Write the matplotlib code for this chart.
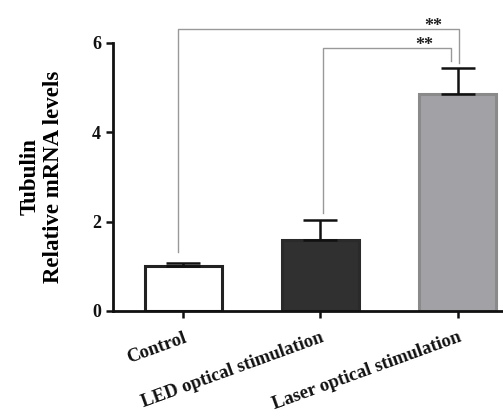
import matplotlib
matplotlib.use("Agg")
import matplotlib.pyplot as plt

categories = ["Control", "LED optical stimulation", "Laser optical stimulation"]
values = [1.0, 1.6, 4.85]
errors = [0.07, 0.44, 0.58]
yticks = [0, 2, 4, 6]
# brackets: (left index, right index, y level, left leg end, right leg end, label)
brackets = [
    (0, 2, 6.31, 1.32, 5.55, "**"),
    (1, 2, 5.88, 2.19, 5.60, "**"),
]

plt.rcParams['font.family'] = ['Liberation Serif', 'DejaVu Serif']
plt.rcParams['font.weight'] = 'bold'

fig = plt.figure(figsize=(5.03, 4.19), dpi=100)
ax = fig.add_axes([0.2247, 0.2578, 0.7753, 0.6396])

x = list(range(len(categories)))
facecolors = ["white", "#303030", "#a2a2a6"]
edgecolors = ["#222222", "#2a2a2a", "#8a8a8a"]
ax.bar(x, values, width=0.56, color=facecolors, edgecolor=edgecolors, linewidth=2.2, zorder=2)
ax.errorbar(x, values, yerr=[[0]*len(values), errors], fmt='none', ecolor='#111111',
            elinewidth=1.8, capsize=12, capthick=1.8, zorder=3)

offs = {0: -0.04, 1: 0.02, 2: 0.0}
for (i, j, yl, yi, yj, lab) in brackets:
    xi = x[i] + offs[i]
    xj = x[j] + (0.01 if i == 0 else -0.05)
    ax.plot([xi, xi, xj, xj], [yi, yl, yl, yj], color='#999999', lw=1.0, zorder=1, clip_on=False)
    ax.text(xj - 0.19, yl - 0.12, lab, ha='center', va='bottom', fontsize=13, color='#222222')

ax.set_xlim(-0.51, 2.33)
ax.set_ylim(0, 6)
ax.set_yticks(yticks)
ax.set_yticklabels([str(t) for t in yticks], fontsize=13, fontweight='bold')
ax.set_xticks(x)
ax.set_xticklabels(categories, rotation=20, ha='right', rotation_mode='anchor', fontsize=13.5, fontweight='bold')
ax.tick_params(axis='both', direction='out', length=5, width=1.8, colors='#111111')
ax.tick_params(axis='x', pad=8)
for s in ['top', 'right']:
    ax.spines[s].set_visible(False)
for s in ['left', 'bottom']:
    ax.spines[s].set_linewidth(2.0)
    ax.spines[s].set_color('#111111')

ax.set_ylabel("Tubulin\nRelative mRNA levels", fontsize=16.5, fontweight='bold', labelpad=20, linespacing=1.15)

fig.savefig("out.png", dpi=100)
